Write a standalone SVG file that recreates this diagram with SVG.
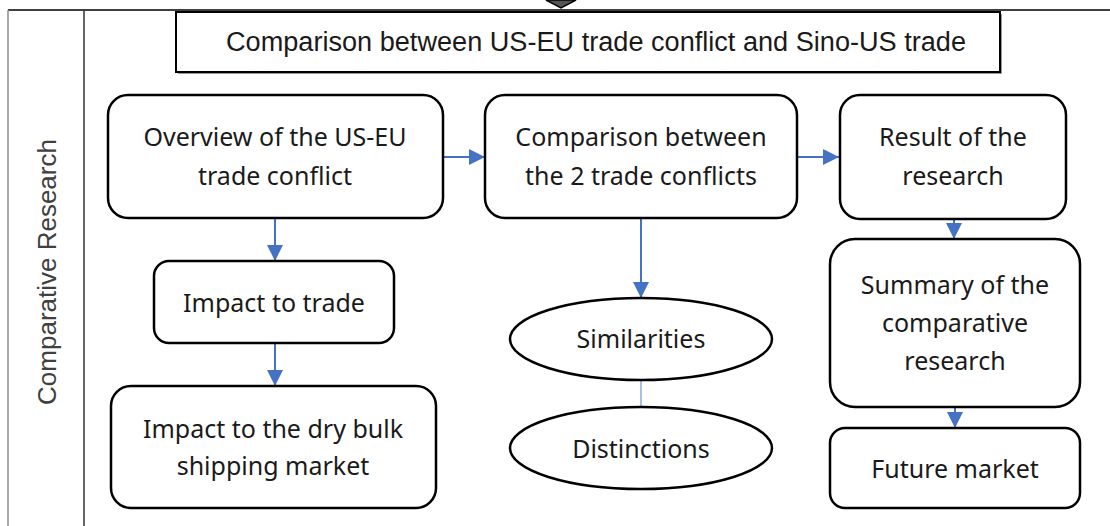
<svg xmlns="http://www.w3.org/2000/svg" width="1110" height="526" viewBox="0 0 1110 526">
  <style>
    .box { fill: #ffffff; stroke: #000000; stroke-width: 2.5; }
    .lbl { font-family: "Noto Sans", "Liberation Sans", sans-serif; font-size: 25px; fill: #1a1a1a; text-anchor: middle; }
    .flow { stroke: #4472C4; stroke-width: 2; fill: none; }
    .link { stroke: #8EAADB; stroke-width: 1.5; fill: none; }
    .frame { stroke-width: 1.5; fill: none; }
  </style>
  <defs>
    <marker id="arrow" markerUnits="userSpaceOnUse" markerWidth="16" markerHeight="16" viewBox="0 0 14 14" refX="14" refY="7" orient="auto">
      <path d="M0,0 L14,7 L0,14 Z" fill="#4472C4"/>
    </marker>
  </defs>

  <rect x="0" y="0" width="1110" height="526" fill="#ffffff"/>

  <!-- swimlane frame -->
  <g id="frame">
    <path d="M546,0 L561,8 L576,0 Z" fill="#555555" stroke="#000000" stroke-width="1.5"/>
    <line class="frame" x1="8" y1="10" x2="1110" y2="10" stroke="#000000"/>
    <line class="frame" x1="8" y1="10" x2="8" y2="526" stroke="#8c8c8c"/>
    <line class="frame" x1="84" y1="10" x2="84" y2="526" stroke="#333333"/>
    <text font-family="Liberation Sans, Arial, sans-serif" font-size="26" fill="#404040" text-anchor="middle" transform="translate(56,272) rotate(-90)">Comparative Research</text>
  </g>

  <!-- title -->
  <g id="title">
    <rect x="178" y="14" width="824" height="60" fill="#9a9a9a"/>
    <rect x="176" y="12" width="824" height="60" fill="#ffffff" stroke="#000000" stroke-width="2"/>
    <text font-family="Liberation Sans, Arial, sans-serif" font-size="27" fill="#1a1a1a" text-anchor="middle" x="596" y="51" textLength="740" lengthAdjust="spacingAndGlyphs">Comparison between US-EU trade conflict and Sino-US trade</text>
  </g>

  <!-- connectors -->
  <g id="connectors">
    <line class="flow" x1="275" y1="218" x2="275" y2="261" marker-end="url(#arrow)"/>
    <line class="flow" x1="275" y1="343" x2="275" y2="386" marker-end="url(#arrow)"/>
    <line class="flow" x1="443" y1="157" x2="485" y2="157" marker-end="url(#arrow)"/>
    <line class="flow" x1="797" y1="157" x2="839" y2="157" marker-end="url(#arrow)"/>
    <line class="flow" x1="641" y1="218" x2="641" y2="298" marker-end="url(#arrow)"/>
    <line class="flow" x1="954" y1="219" x2="954" y2="239" marker-end="url(#arrow)"/>
    <line class="flow" x1="955" y1="407" x2="955" y2="428" marker-end="url(#arrow)"/>
    <line class="link" x1="641" y1="380" x2="641" y2="407"/>
  </g>

  <g id="overview">
    <rect class="box" x="108" y="95" width="335" height="123" rx="20"/>
    <text class="lbl" x="275" y="146">Overview of the US-EU</text>
    <text class="lbl" x="275" y="185">trade conflict</text>
  </g>

  <g id="comparison">
    <rect class="box" x="485" y="95" width="312" height="123" rx="20"/>
    <text class="lbl" x="641" y="146">Comparison between</text>
    <text class="lbl" x="641" y="185">the 2 trade conflicts</text>
  </g>

  <g id="result">
    <rect class="box" x="840" y="95" width="226" height="124" rx="20"/>
    <text class="lbl" x="953" y="146">Result of the</text>
    <text class="lbl" x="953" y="185">research</text>
  </g>

  <g id="impact-trade">
    <rect class="box" x="154" y="261" width="240" height="82" rx="15"/>
    <text class="lbl" x="274" y="312">Impact to trade</text>
  </g>

  <g id="impact-shipping">
    <rect class="box" x="111" y="386" width="325" height="122" rx="20"/>
    <text class="lbl" x="273" y="438">Impact to the dry bulk</text>
    <text class="lbl" x="273" y="475">shipping market</text>
  </g>

  <g id="similarities">
    <ellipse class="box" cx="641" cy="339" rx="131" ry="41"/>
    <text class="lbl" x="641" y="348">Similarities</text>
  </g>

  <g id="distinctions">
    <ellipse class="box" cx="641" cy="448" rx="131" ry="41"/>
    <text class="lbl" x="641" y="458">Distinctions</text>
  </g>

  <g id="summary">
    <rect class="box" x="830" y="239" width="250" height="168" rx="25"/>
    <text class="lbl" x="955" y="294">Summary of the</text>
    <text class="lbl" x="955" y="332">comparative</text>
    <text class="lbl" x="955" y="370">research</text>
  </g>

  <g id="future">
    <rect class="box" x="830" y="428" width="250" height="80" rx="15"/>
    <text class="lbl" x="955" y="478">Future market</text>
  </g>
</svg>
